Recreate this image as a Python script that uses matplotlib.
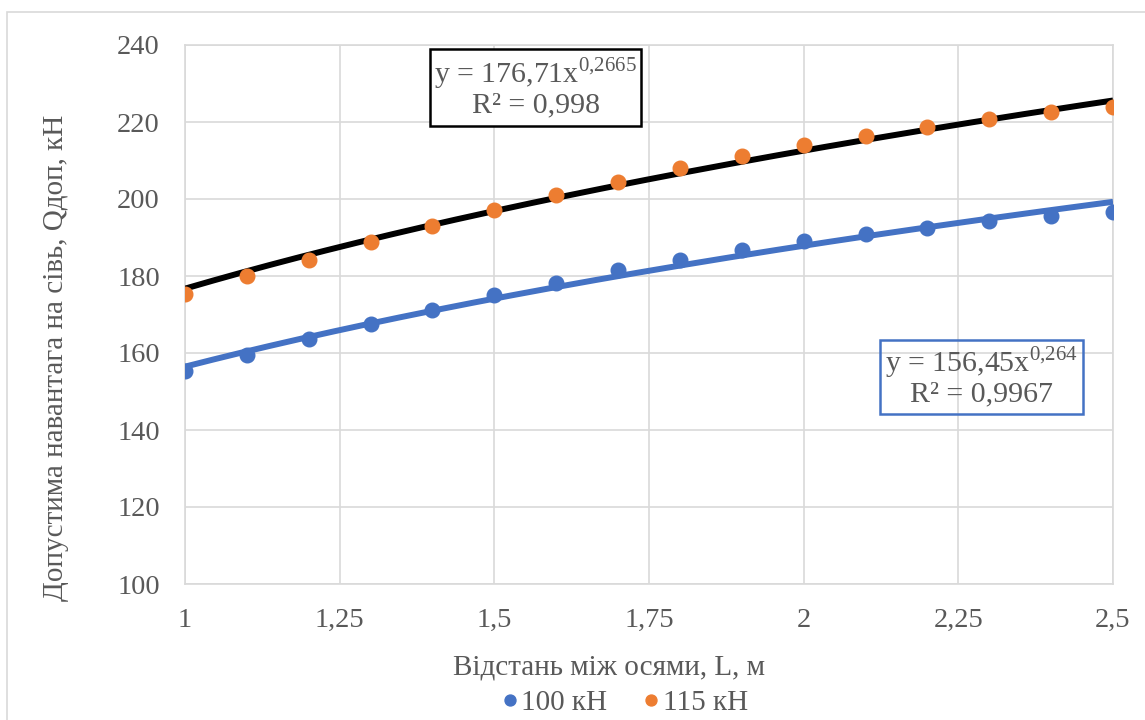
import numpy as np
import matplotlib
matplotlib.use("Agg")
import matplotlib.pyplot as plt
from matplotlib.patches import FancyBboxPatch

# ---- data ----
L = [1.0, 1.1, 1.2, 1.3, 1.4, 1.5, 1.6, 1.7, 1.8, 1.9, 2.0, 2.1, 2.2, 2.3, 2.4, 2.5]
q100 = [155.3, 159.5, 163.6, 167.5, 171.2, 175.1, 178.2, 181.6, 184.2, 186.8,
        189.1, 190.9, 192.5, 194.3, 195.6, 196.6]
q115 = [175.3, 180.0, 184.2, 188.8, 193.0, 197.1, 201.0, 204.4, 208.1, 211.2,
        214.0, 216.4, 218.7, 220.8, 222.6, 223.9]
series_labels = ["100 кН", "115 кН"]
fit100 = (156.45, 0.264)
fit115 = (176.71, 0.2665)
eq100 = ("y = 156,45x", "0{,}264", "R² = 0,9967")
eq115 = ("y = 176,71x", "0{,}2665", "R² = 0,998")
xticks = [1, 1.25, 1.5, 1.75, 2, 2.25, 2.5]
xticklabels = ["1", "1,25", "1,5", "1,75", "2", "2,25", "2,5"]
yticks = [100, 120, 140, 160, 180, 200, 220, 240]
xlabel = "Відстань між осями, L, м"
ylabel = "Допустима навантага на сівь, Qдоп, кН"

BLUE = "#4472C4"
ORANGE = "#ED7D31"
TXT = "#595959"
GRID = "#D9D9D9"

plt.rcParams["font.family"] = ["Liberation Serif", "DejaVu Serif"]
plt.rcParams["mathtext.fontset"] = "custom"
plt.rcParams["mathtext.rm"] = "Liberation Serif"

W, H = 1145, 720
fig = plt.figure(figsize=(W / 100, H / 100), dpi=100)
ax = fig.add_axes([185 / W, 1 - 584 / H, (1113 - 185) / W, (584 - 45) / H])

# outer chart border
fig.patches.append(FancyBboxPatch((7 / W, -0.05), 1.2, 1 - 12 / H + 0.05,
                                  boxstyle="square,pad=0", transform=fig.transFigure,
                                  fill=False, edgecolor=GRID, linewidth=1.2))

xx = np.linspace(1, 2.5, 200)
ax.plot(xx, fit115[0] * xx ** fit115[1], color="black", lw=4.3, zorder=3,
        solid_capstyle="butt")
ax.plot(xx, fit100[0] * xx ** fit100[1], color=BLUE, lw=4.3, zorder=3,
        solid_capstyle="butt")
ax.plot(L, q100, "o", color=BLUE, ms=10.5, zorder=4, label=series_labels[0])
ax.plot(L, q115, "o", color=ORANGE, ms=10.5, zorder=4, label=series_labels[1])

ax.set_xlim(1, 2.5)
ax.set_ylim(100, 240)
ax.set_xticks(xticks)
ax.set_xticklabels(xticklabels)
ax.set_yticks(yticks)
ax.grid(True, color=GRID, lw=1.2, zorder=0)
ax.set_axisbelow(True)
for s in ax.spines.values():
    s.set_color(GRID)
    s.set_linewidth(1.2)
ax.tick_params(length=0, labelsize=20.5, labelcolor=TXT)
ax.tick_params(axis="x", pad=17)
ax.tick_params(axis="y", pad=18)

fig.text(609 / W, 1 - 668 / H, xlabel, ha="center", va="center",
         fontsize=21, color=TXT)
fig.text(56 / W, 1 - 358 / H, ylabel, ha="center", va="center",
         rotation=90, fontsize=21, color=TXT)

# equation boxes
def eq_box(x0, y0, x1, y1, eq, edge, fill, dy1, dy2):
    ax.add_patch(plt.Rectangle((x0 / W, 1 - y1 / H), (x1 - x0) / W, (y1 - y0) / H,
                               transform=fig.transFigure, facecolor=fill,
                               edgecolor=edge, lw=1.8, zorder=5))
    cx = (x0 + x1) / 2
    fig.text(cx / W, 1 - (y0 + dy1) / H,
             eq[0] + r"$^{\mathregular{" + eq[1] + "}}$",
             ha="center", va="center", fontsize=21.5, color=TXT, zorder=6)
    fig.text(cx / W, 1 - (y0 + dy2) / H, eq[2], ha="center", va="center",
             fontsize=21.5, color=TXT, zorder=6)

eq_box(430, 49, 641, 126, eq115, "black", "white", 25, 56)
eq_box(880, 340, 1083, 414, eq100, BLUE, "none", 23, 54)

leg = fig.legend(loc="center", bbox_to_anchor=(620 / W, 1 - 703 / H), ncol=2,
                 frameon=False, fontsize=21, handletextpad=-0.2,
                 columnspacing=0.9, markerscale=0.75, handlelength=1.2,
                 borderpad=0)
for t in leg.get_texts():
    t.set_color(TXT)

fig.savefig("out.png", dpi=100)
